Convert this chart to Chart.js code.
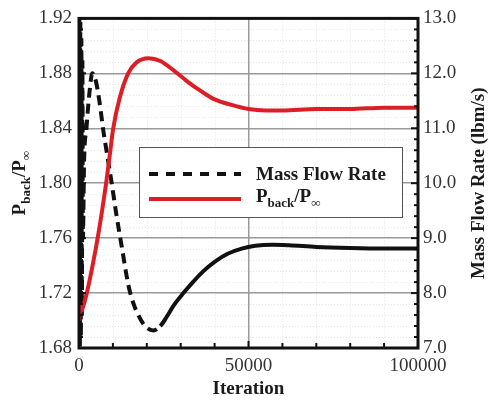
<!DOCTYPE html>
<html>
<head>
<meta charset="utf-8">
<script src="https://cdn.jsdelivr.net/npm/chart.js@4/dist/chart.umd.min.js"></script>
<style>
  body { margin: 0; background: #fff; }
  #wrap { width: 490px; height: 400px; }
</style>
</head>
<body>
<div id="wrap"><canvas id="chart" width="490" height="400"></canvas></div>
<script>
// pressure ratio P_back/P_inf (left axis)
const ratioIter = [0, 300, 700, 1200, 2300, 4000, 5500, 7000, 8000, 9000, 10100, 12000, 14500, 17000, 20500,
    24000, 28000, 32000, 36000, 40000, 45000, 50000, 55000, 60000, 70000, 80000, 90000, 100000];
const pRatio = [1.700, 1.711, 1.707, 1.710, 1.720, 1.740, 1.760, 1.783, 1.800, 1.819, 1.840, 1.862, 1.880, 1.888, 1.891,
    1.889, 1.882, 1.874, 1.867, 1.861, 1.857, 1.854, 1.853, 1.853, 1.854, 1.854, 1.855, 1.855];

// mass flow rate, lbm/s (right axis)
const massIter = [0, 100, 250, 400, 550, 700, 850, 1000, 1150, 1500, 2200, 3000, 3950,
    5000, 6000, 7170, 8400, 9640, 11100, 12600, 14550, 16000, 17500, 19500, 21900, 24000, 26000, 28000,
    30800, 33600, 36700, 40000, 44000, 48000, 52000, 57000, 62000, 70000, 80000, 90000, 100000];
const massFlow = [10.0, 13.0, 7.0, 12.9, 7.2, 12.6, 7.6, 12.2, 9.0, 10.4, 11.0, 11.6, 12.0,
    11.85, 11.5, 10.96, 10.48, 10.0, 9.4, 8.85, 8.15, 7.82, 7.6, 7.4, 7.32, 7.4, 7.58, 7.78,
    8.0, 8.2, 8.4, 8.57, 8.72, 8.81, 8.86, 8.88, 8.87, 8.84, 8.82, 8.81, 8.81];

// tick settings
const xTicks = [0, 50000, 100000];
const leftTicks = [1.68, 1.72, 1.76, 1.80, 1.84, 1.88, 1.92];
const rightTicks = [7, 8, 9, 10, 11, 12, 13];

const SERIF = '"Liberation Serif", "Times New Roman", serif';
const RED = '#dc1f26';

function near(a, b) { return Math.abs(a - b) < 1e-6; }

// draw text with subscripts, centred on (0,0) of current transform
function drawRichText(ctx, parts) {
    let total = 0;
    parts.forEach(p => {
        ctx.font = 'bold ' + p.size + 'px ' + SERIF;
        p.w = ctx.measureText(p.t).width;
        total += p.w;
    });
    let x = -total / 2;
    ctx.textBaseline = 'alphabetic';
    ctx.textAlign = 'left';
    parts.forEach(p => {
        ctx.font = 'bold ' + p.size + 'px ' + SERIF;
        ctx.fillText(p.t, x, 6 + p.dy);
        x += p.w;
    });
}

const decorPlugin = {
    id: 'decor',
    beforeDatasetsDraw(chart) {
        const { ctx, chartArea: a, scales } = chart;
        ctx.save();
        ctx.strokeStyle = 'rgba(140,140,140,0.22)';
        ctx.lineWidth = 1;
        ctx.setLineDash([1, 2]);
        for (let v = 1.68; v < 1.92; v += 0.008) {
            if (Math.round((v - 1.68) / 0.008) % 5 === 0) continue;
            const y = Math.round(scales.y.getPixelForValue(v)) + 0.5;
            ctx.beginPath(); ctx.moveTo(a.left, y); ctx.lineTo(a.right, y); ctx.stroke();
        }
        for (let v = 10000; v < 100000; v += 10000) {
            if (v === 50000) continue;
            const x = Math.round(scales.x.getPixelForValue(v)) + 0.5;
            ctx.beginPath(); ctx.moveTo(x, a.top); ctx.lineTo(x, a.bottom); ctx.stroke();
        }
        ctx.restore();
    },
    afterDatasetsDraw(chart) {
        const { ctx, chartArea: a, scales } = chart;
        ctx.save();
        ctx.strokeStyle = '#111';
        // inward tick marks
        ctx.lineWidth = 2;
        for (let i = 0; i <= 30; i++) {
            const len = i % 5 === 0 ? 7 : 4;
            const yl = scales.y.getPixelForValue(1.68 + i * 0.008);
            ctx.beginPath(); ctx.moveTo(a.left, yl); ctx.lineTo(a.left + len, yl); ctx.stroke();
            const yr = scales.y1.getPixelForValue(7 + i * 0.2);
            ctx.beginPath(); ctx.moveTo(a.right, yr); ctx.lineTo(a.right - len, yr); ctx.stroke();
        }
        for (let i = 0; i <= 10; i++) {
            const len = i % 5 === 0 ? 7 : 5;
            const x = scales.x.getPixelForValue(i * 10000);
            ctx.beginPath(); ctx.moveTo(x, a.bottom); ctx.lineTo(x, a.bottom - len); ctx.stroke();
        }
        // frame
        ctx.lineWidth = 3;
        ctx.strokeRect(a.left, a.top, a.right - a.left, a.bottom - a.top);
        ctx.restore();
    },
    afterDraw(chart) {
        const { ctx, chartArea: a } = chart;
        const midY = (a.top + a.bottom) / 2;
        ctx.save();
        ctx.fillStyle = '#1a1a1a';
        // left axis title
        ctx.save();
        ctx.translate(19, midY);
        ctx.rotate(-Math.PI / 2);
        drawRichText(ctx, [
            { t: 'P', size: 19, dy: 0 }, { t: 'back', size: 13, dy: 5 },
            { t: '/P', size: 19, dy: 0 }, { t: '\u221E', size: 13, dy: 5 }
        ]);
        ctx.restore();
        // right axis title
        ctx.save();
        ctx.translate(478, midY);
        ctx.rotate(-Math.PI / 2);
        drawRichText(ctx, [{ t: 'Mass Flow Rate (lbm/s)', size: 19, dy: 0 }]);
        ctx.restore();

        // legend box
        const bx = 139.5, by = 147.5, bw = 263, bh = 70;
        ctx.fillStyle = '#fff';
        ctx.fillRect(bx, by, bw, bh);
        ctx.strokeStyle = '#555';
        ctx.lineWidth = 1;
        ctx.strokeRect(bx, by, bw, bh);
        ctx.lineWidth = 4;
        ctx.strokeStyle = '#111';
        ctx.setLineDash([9, 8]);
        ctx.beginPath(); ctx.moveTo(149, 174); ctx.lineTo(241, 174); ctx.stroke();
        ctx.setLineDash([]);
        ctx.strokeStyle = RED;
        ctx.beginPath(); ctx.moveTo(149, 199); ctx.lineTo(241, 199); ctx.stroke();
        ctx.fillStyle = '#1a1a1a';
        ctx.save();
        ctx.translate(256, 174);
        ctx.font = 'bold 19px ' + SERIF;
        ctx.textAlign = 'left';
        ctx.textBaseline = 'alphabetic';
        ctx.fillText('Mass Flow Rate', 0, 6);
        ctx.restore();
        ctx.save();
        ctx.translate(256, 196);
        const parts = [
            { t: 'P', size: 19, dy: 0 }, { t: 'back', size: 13, dy: 5 },
            { t: '/P', size: 19, dy: 0 }, { t: '\u221E', size: 13, dy: 5 }
        ];
        let w = 0;
        parts.forEach(p => { ctx.font = 'bold ' + p.size + 'px ' + SERIF; w += ctx.measureText(p.t).width; });
        ctx.translate(w / 2, 0);
        drawRichText(ctx, parts);
        ctx.restore();
        ctx.restore();
    }
};

function buildChart() {
    const ctx = document.getElementById('chart').getContext('2d');
    new Chart(ctx, {
        type: 'line',
        data: {
            datasets: [{
                label: 'P_back/P_inf',
                data: ratioIter.map((x, i) => ({ x, y: pRatio[i] })),
                yAxisID: 'y',
                borderColor: RED,
                borderWidth: 4,
                pointRadius: 0,
                cubicInterpolationMode: 'monotone'
            }, {
                label: 'Mass Flow Rate',
                data: massIter.map((x, i) => ({ x, y: massFlow[i] })),
                yAxisID: 'y1',
                borderColor: '#111',
                borderWidth: 4,
                pointRadius: 0,
                cubicInterpolationMode: 'monotone',
                segment: {
                    borderDash: c => c.p0.parsed.x < 22000 ? [10, 6] : []
                }
            }]
        },
        options: {
            responsive: false,
            animation: false,
            layout: { padding: { top: 13, left: 0, right: 0, bottom: 0 } },
            plugins: { legend: { display: false }, tooltip: { enabled: false } },
            scales: {
                x: {
                    type: 'linear', min: 0, max: 100000,
                    afterBuildTicks: s => { s.ticks = xTicks.map(v => ({ value: v })); },
                    afterFit: s => { s.height = 52; },
                    border: { display: false },
                    grid: {
                        drawTicks: false,
                        color: c => c.tick && c.tick.value === 50000 ? '#9a9a9a' : 'rgba(0,0,0,0)',
                        lineWidth: 1.5
                    },
                    ticks: {
                        padding: 7, maxRotation: 0, color: '#333',
                        font: { family: SERIF, size: 19 },
                        callback: v => String(v)
                    },
                    title: {
                        display: true, text: 'Iteration', color: '#1a1a1a',
                        font: { family: SERIF, size: 19, weight: 'bold' },
                        padding: { top: 0, bottom: 0 }
                    }
                },
                y: {
                    position: 'left', min: 1.68, max: 1.92,
                    afterBuildTicks: s => { s.ticks = leftTicks.map(v => ({ value: v })); },
                    afterFit: s => { s.width = 79; },
                    border: { display: false },
                    grid: {
                        drawTicks: false,
                        color: c => (c.tick && (near(c.tick.value, 1.68) || near(c.tick.value, 1.92))) ? 'rgba(0,0,0,0)' : '#9a9a9a',
                        lineWidth: 1.5
                    },
                    ticks: {
                        padding: 7, color: '#333',
                        font: { family: SERIF, size: 19 },
                        callback: v => v.toFixed(2)
                    }
                },
                y1: {
                    position: 'right', min: 7, max: 13,
                    afterBuildTicks: s => { s.ticks = rightTicks.map(v => ({ value: v })); },
                    afterFit: s => { s.width = 72; },
                    border: { display: false },
                    grid: { display: false, drawTicks: false },
                    ticks: {
                        padding: 5, color: '#333',
                        font: { family: SERIF, size: 19 },
                        callback: v => v.toFixed(1)
                    }
                }
            }
        },
        plugins: [decorPlugin]
    });
}

buildChart();
</script>
</body>
</html>
